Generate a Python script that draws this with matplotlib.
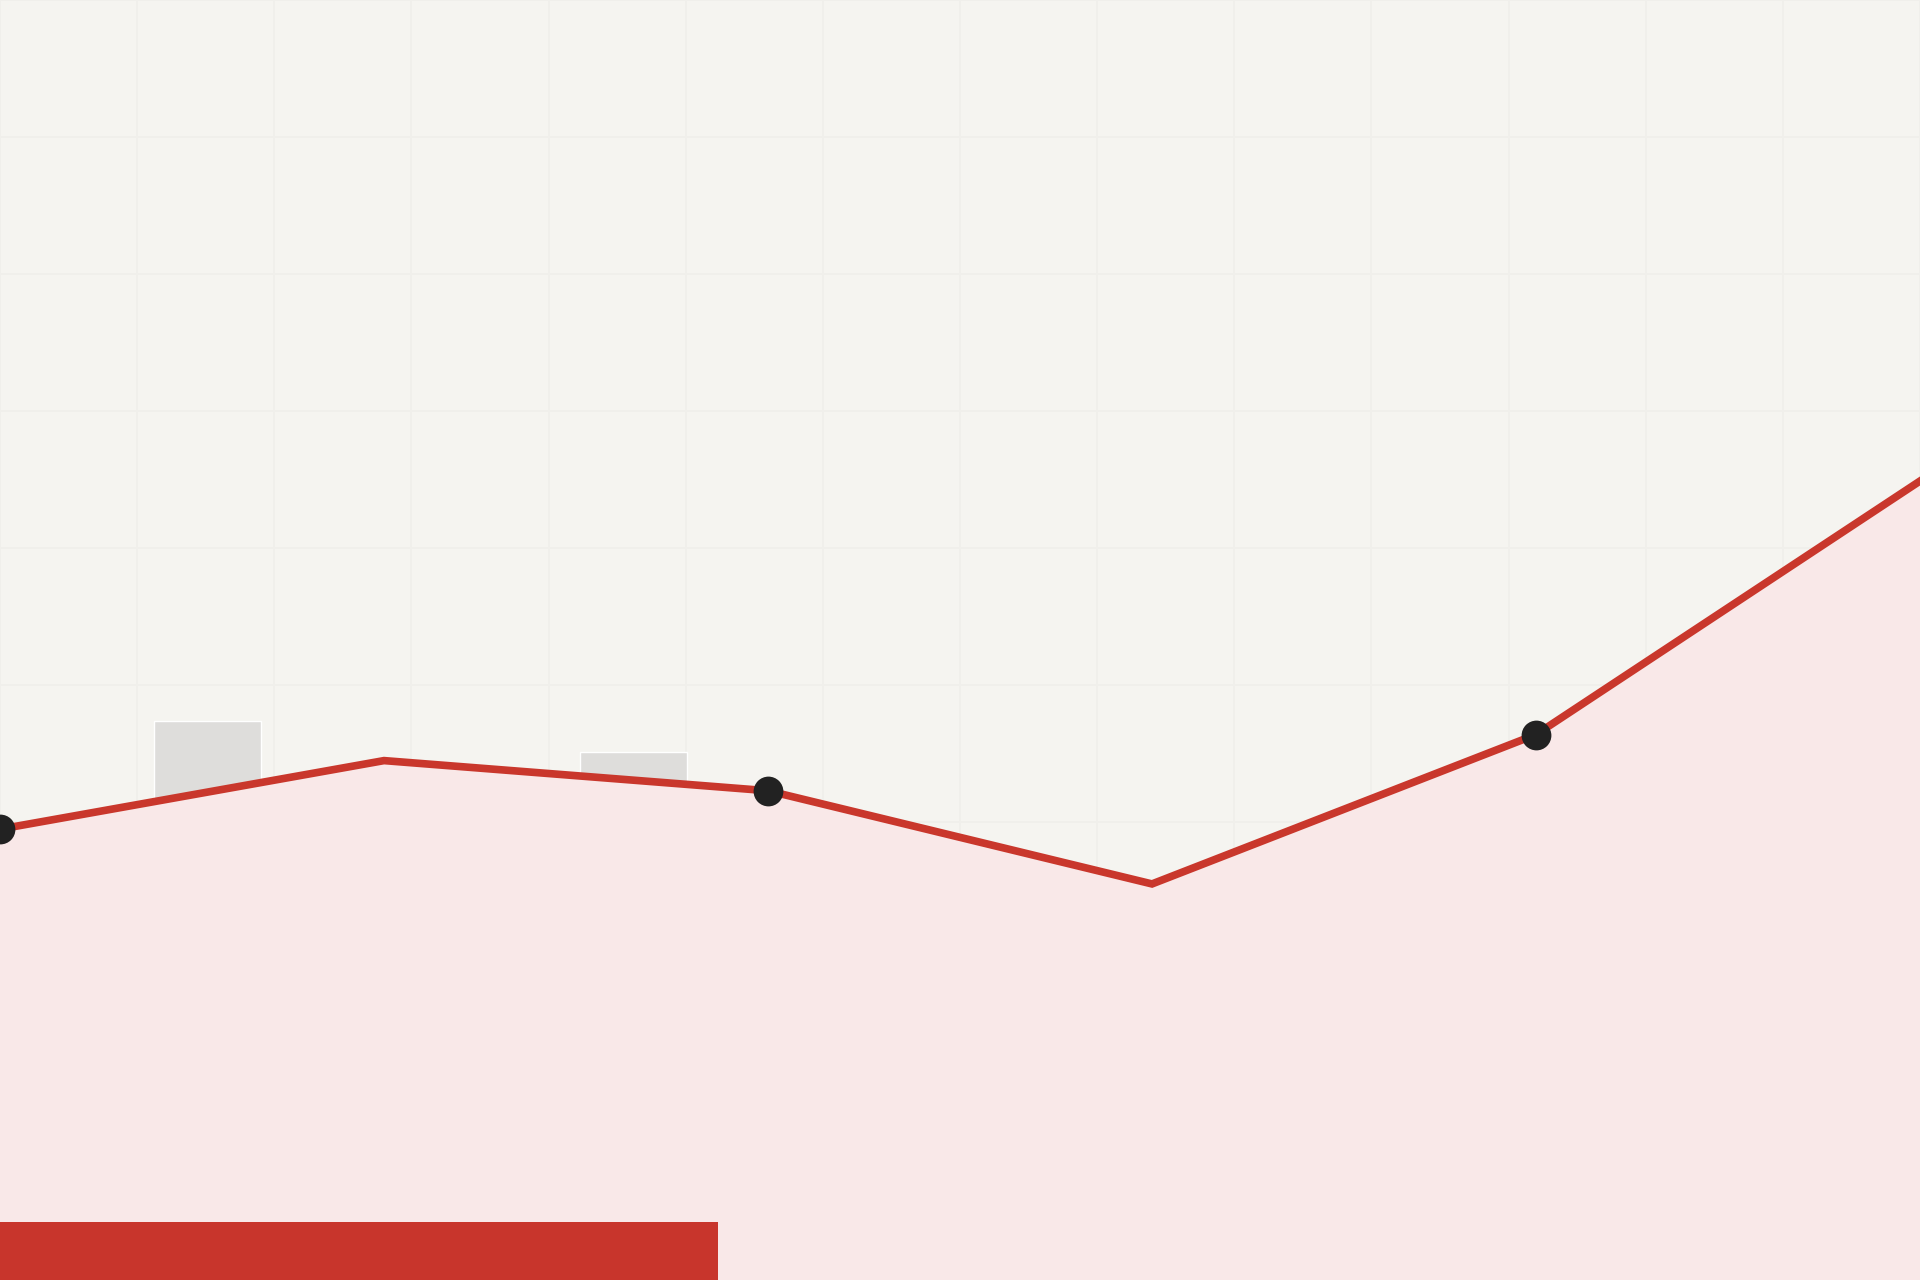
import matplotlib
matplotlib.use("Agg")
import matplotlib.pyplot as plt
import numpy as np

# ---- data ----
periods = [0, 1, 2, 3, 4, 5]
trend_values = [39.5, 44.5, 42.3, 35.5, 46.4, 64.9]
marked_periods = [0, 2, 4]
marked_values = [39.5, 42.3, 46.4]
bar_positions = [0.54, 1.65]
bar_values = [47.4, 45.1]
progress_value = [1.87]
progress_level = [10.8]

# ---- styling ----
BG = "#f5f4f0"
GRID = "#f0efeb"
LINE = "#c9372c"
FILL = "#f9e8e8"
MARK = "#222222"
BARC = "#dedddb"

fig = plt.figure(figsize=(19.2, 12.8), dpi=100, facecolor=BG)
ax = fig.add_axes([0, 0, 1, 1])
ax.set_facecolor(BG)

ax.set_xlim(0, 5)
ax.set_ylim(6.6, 100)

# grid
ax.set_xticks(np.arange(0, 5.01, 5 / 14))
ax.set_yticks(np.arange(10, 100.1, 10))
ax.grid(True, color=GRID, linewidth=1.2, zorder=0)
ax.tick_params(length=0, labelbottom=False, labelleft=False)
for s in ax.spines.values():
    s.set_visible(False)
ax.set_axisbelow(True)

# gray bars
ax.bar(bar_positions, bar_values, width=0.28, color=BARC,
       edgecolor="white", linewidth=1.0, zorder=1)

# area + line
ax.fill_between(periods, trend_values, 0, color=FILL, zorder=2, linewidth=0)
ax.plot(periods, trend_values, color=LINE, linewidth=5.5, zorder=3,
        solid_joinstyle="miter")
ax.scatter(marked_periods, marked_values, s=460, color=MARK, zorder=4,
           linewidths=0, clip_on=False)

# red progress bar
ax.bar([0], progress_level, width=progress_value, align="edge",
       color="#c8352c", zorder=5, linewidth=0)

fig.savefig("out.png", dpi=100, facecolor=BG)
